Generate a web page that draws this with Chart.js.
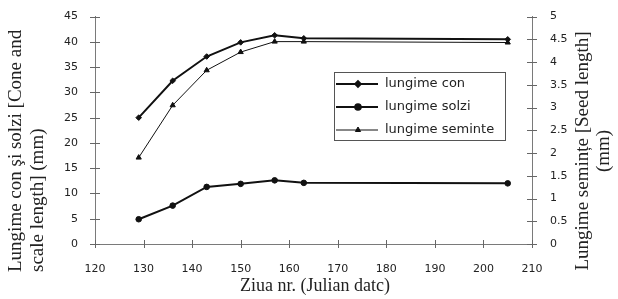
<!DOCTYPE html>
<html>
<head>
<meta charset="utf-8">
<script src="https://cdn.jsdelivr.net/npm/chart.js@4.4.0/dist/chart.umd.min.js"></script>
<style>
  html, body { margin: 0; padding: 0; background: #fff; }
</style>
</head>
<body>
<canvas id="chart" width="618" height="299"></canvas>
<script>
// Julian day of sampling
const days = [129, 136, 143, 150, 157, 163, 205];
// lengths (mm)
const coneLength = [25.0, 32.3, 37.1, 39.9, 41.3, 40.7, 40.5];
const scaleLength = [4.9, 7.6, 11.3, 11.9, 12.6, 12.1, 12.0];
const seedLength = [1.9, 3.05, 3.82, 4.22, 4.45, 4.45, 4.43];

const legendLabels = ['lungime con', 'lungime solzi', 'lungime seminte'];
const leftTitle = ['Lungime con şi solzi [Cone and', 'scale length] (mm)'];
const rightTitle = ['Lungime semințe [Seed length]', '(mm)'];
const xTitle = 'Ziua nr. (Julian datc)';

const toPoints = (vals) => vals.map((v, i) => ({ x: days[i], y: v }));

const AXIS_COLOR = '#7a7a7a';
const TEXT_COLOR = '#222';
const SERIF = '"Liberation Serif", "DejaVu Serif", serif';
const SANS = '"DejaVu Sans", sans-serif';

// cross tick marks, axis titles and the boxed legend
const decorations = {
    id: 'decorations',
    afterDraw(chart) {
        const ctx = chart.ctx;
        const ca = chart.chartArea;
        const sx = chart.scales.x, sy = chart.scales.y, sy1 = chart.scales.y1;

        ctx.save();
        ctx.strokeStyle = '#666';
        ctx.lineWidth = 1;
        ctx.beginPath();
        sy.ticks.forEach(t => {
            const p = Math.round(sy.getPixelForValue(t.value)) + 0.5;
            ctx.moveTo(ca.left - 5, p); ctx.lineTo(ca.left + 5, p);
        });
        sy1.ticks.forEach(t => {
            const p = Math.round(sy1.getPixelForValue(t.value)) + 0.5;
            ctx.moveTo(ca.right - 5, p); ctx.lineTo(ca.right + 5, p);
        });
        sx.ticks.forEach(t => {
            const p = Math.round(sx.getPixelForValue(t.value)) + 0.5;
            ctx.moveTo(p, ca.bottom - 4); ctx.lineTo(p, ca.bottom + 4);
        });
        ctx.stroke();

        // axis titles
        ctx.fillStyle = TEXT_COLOR;
        ctx.font = '19px ' + SERIF;
        ctx.textBaseline = 'middle';

        ctx.save();
        ctx.translate(16, 272);
        ctx.rotate(-Math.PI / 2);
        ctx.textAlign = 'left';
        ctx.fillText(leftTitle[0], 0, 0);
        ctx.fillText(leftTitle[1], 0, 22);
        ctx.restore();

        ctx.save();
        ctx.translate(583, 151);
        ctx.rotate(-Math.PI / 2);
        ctx.textAlign = 'center';
        ctx.fillText(rightTitle[0], 0, 0);
        ctx.fillText(rightTitle[1], 0, 21);
        ctx.restore();

        ctx.font = '18px ' + SERIF;
        ctx.textAlign = 'center';
        ctx.fillText(xTitle, 315, 286);

        // legend
        const box = { x: 334.5, y: 72.5, w: 171, h: 68 };
        ctx.strokeStyle = '#555';
        ctx.lineWidth = 1;
        ctx.strokeRect(box.x, box.y, box.w, box.h);
        const rows = [84, 107, 130];
        ctx.font = '13px ' + SANS;
        ctx.textAlign = 'left';
        chart.data.datasets.forEach((ds, i) => {
            const y = rows[i];
            ctx.strokeStyle = ds.borderColor;
            ctx.lineWidth = ds.borderWidth;
            ctx.beginPath();
            ctx.moveTo(336, y); ctx.lineTo(378, y);
            ctx.stroke();
            ctx.fillStyle = ds.backgroundColor;
            Chart.helpers.drawPoint(ctx, {
                pointStyle: ds.pointStyle,
                radius: ds.pointRadius,
                rotation: 0,
                borderWidth: 1
            }, 358, y);
            ctx.fillStyle = TEXT_COLOR;
            ctx.fillText(legendLabels[i], 385, y);
        });
        ctx.restore();
    }
};

const plainTick = (v) => String(v);

new Chart(document.getElementById('chart'), {
    type: 'line',
    data: {
        datasets: [
            {
                label: legendLabels[0],
                data: toPoints(coneLength),
                yAxisID: 'y',
                borderColor: '#111',
                backgroundColor: '#111',
                borderWidth: 2,
                pointStyle: 'rectRot',
                pointRadius: 2.8,
                pointBorderWidth: 1
            },
            {
                label: legendLabels[1],
                data: toPoints(scaleLength),
                yAxisID: 'y',
                borderColor: '#111',
                backgroundColor: '#111',
                borderWidth: 2,
                pointStyle: 'circle',
                pointRadius: 2.8,
                pointBorderWidth: 1
            },
            {
                label: legendLabels[2],
                data: toPoints(seedLength),
                yAxisID: 'y1',
                borderColor: '#111',
                backgroundColor: '#111',
                borderWidth: 1,
                pointStyle: 'triangle',
                pointRadius: 3,
                pointBorderWidth: 1
            }
        ]
    },
    options: {
        responsive: false,
        animation: false,
        events: [],
        layout: { padding: { top: 16, left: 0, right: 0, bottom: 0 } },
        plugins: { legend: { display: false }, tooltip: { enabled: false } },
        elements: { line: { tension: 0 } },
        scales: {
            x: {
                type: 'linear',
                min: 120, max: 210,
                afterFit: s => { s.height = 55; },
                grid: { display: false },
                border: { display: true, color: AXIS_COLOR, width: 1 },
                ticks: { stepSize: 10, padding: 11, color: TEXT_COLOR, font: { family: SANS, size: 11 }, maxRotation: 0, callback: plainTick }
            },
            y: {
                position: 'left',
                min: 0, max: 45,
                afterFit: s => { s.width = 95; },
                grid: { display: false },
                border: { display: true, color: AXIS_COLOR, width: 1 },
                ticks: { stepSize: 5, padding: 9, color: TEXT_COLOR, font: { family: SANS, size: 11 }, callback: plainTick }
            },
            y1: {
                position: 'right',
                min: 0, max: 5,
                afterFit: s => { s.width = 86; },
                grid: { display: false },
                border: { display: true, color: AXIS_COLOR, width: 1 },
                ticks: { stepSize: 0.5, padding: 10, color: TEXT_COLOR, font: { family: SANS, size: 11 }, callback: plainTick }
            }
        }
    },
    plugins: [decorations]
});
</script>
</body>
</html>
